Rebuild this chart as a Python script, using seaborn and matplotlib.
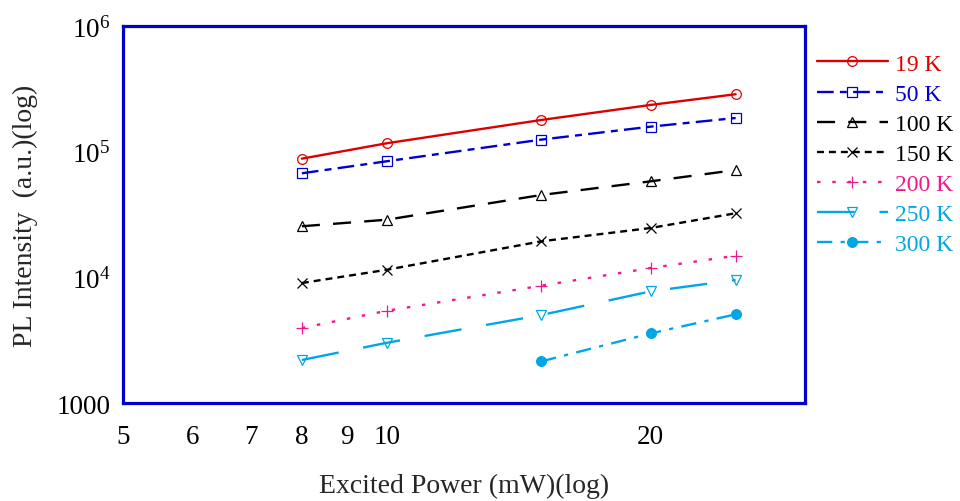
import matplotlib
matplotlib.use("Agg")
import matplotlib.pyplot as plt
import matplotlib.ticker as mticker
from matplotlib.lines import Line2D
import numpy as np
import pandas as pd
import seaborn as sns

# Excitation power (mW) and PL intensity (a.u.) at each temperature
power = [8, 10, 15, 20, 25]
power_300k = [15, 20, 25]
pl_19k = [88000, 116700, 178700, 235500, 286500]
pl_50k = [67300, 83900, 124700, 158200, 185400]
pl_100k = [25500, 28750, 45200, 58100, 71400]
pl_150k = [9010, 11490, 19350, 24700, 32360]
pl_200k = [3950, 5420, 8580, 11860, 14860]
pl_250k = [2200, 3015, 5010, 7735, 9520]
pl_300k = [2143, 3580, 5075]

labels = ["19 K", "50 K", "100 K", "150 K", "200 K", "250 K", "300 K"]
x_ticklabels = ["5", "6", "7", "8", "9", "10", "20"]
y_ticklabels = ["1000", r"$10^{4}$", r"$10^{5}$", r"$10^{6}$"]

sns.set_theme(style="white")
plt.rcParams["font.family"] = ["Liberation Serif", "DejaVu Serif"]
plt.rcParams["mathtext.fontset"] = "custom"
plt.rcParams["mathtext.rm"] = "Liberation Serif"
plt.rcParams["mathtext.it"] = "Liberation Serif:italic"
plt.rcParams["lines.scale_dashes"] = False

frame_blue = "#0000CC"
red = "#DD0000"
blue = "#0000CC"
pink = "#EE1A8C"
cyan = "#00A6E6"

series = [
    (power, pl_19k, red, "o", "none", 7.0, "-"),
    (power, pl_50k, blue, "s", "none", 6.5, (0, (12, 4.5, 5, 4.5))),
    (power, pl_100k, "black", "^", "none", 7.0, (0, (13, 9.5))),
    (power, pl_150k, "black", "x", "black", 7.0, (0, (5, 3.6))),
    (power, pl_200k, pink, "+", pink, 8.0, (0, (2.5, 8.5))),
    (power, pl_250k, cyan, "v", "none", 7.0, (0, (27, 18))),
    (power_300k, pl_300k, cyan, "o", cyan, 7.0, (0, (11, 6, 3, 6))),
]

fig = plt.figure(figsize=(9.6, 5.02), dpi=100)
ax = fig.add_axes([0.1281, 0.1952, 0.7105, 0.7510])

handles = []
for (xs, ys, color, marker, mfc, ms, ls), lab in zip(series, labels):
    df = pd.DataFrame({"power": xs, "pl": ys})
    sns.lineplot(data=df, x="power", y="pl", ax=ax, color=color,
                 marker=marker, markersize=ms, markerfacecolor=mfc,
                 markeredgecolor=color, markeredgewidth=0.9,
                 linewidth=1.7, linestyle=ls, legend=False)
    handles.append(Line2D([], [], color=color, marker=marker, markersize=ms,
                          markerfacecolor=mfc, markeredgecolor=color,
                          markeredgewidth=0.9, linewidth=1.7, linestyle=ls))

ax.set_xscale("log")
ax.set_yscale("log")
ax.set_xlim(5, 30)
ax.set_ylim(1000, 1e6)

# x axis: long ticks at 10 and 20, short ticks at 5-9, all labelled
ax.xaxis.set_major_locator(mticker.FixedLocator([10, 20]))
ax.xaxis.set_major_formatter(mticker.FixedFormatter(["10", "20"]))
ax.xaxis.set_minor_locator(mticker.FixedLocator([5, 6, 7, 8, 9]))
ax.xaxis.set_minor_formatter(mticker.FixedFormatter(x_ticklabels[:5]))

# y axis: decades labelled, 2-9 minor ticks
ax.yaxis.set_major_locator(mticker.FixedLocator([1e3, 1e4, 1e5, 1e6]))
ax.yaxis.set_major_formatter(mticker.FixedFormatter(y_ticklabels))
ax.yaxis.set_minor_locator(mticker.LogLocator(base=10, subs=np.arange(2, 10)))
ax.yaxis.set_minor_formatter(mticker.NullFormatter())

ax.tick_params(axis="both", which="both", direction="in", colors=frame_blue,
               labelcolor="black", top=False, right=False, width=1.8)
ax.tick_params(axis="both", which="major", length=8)
ax.tick_params(axis="both", which="minor", length=5)
ax.tick_params(axis="x", which="both", labelsize=19.5, pad=15)
ax.tick_params(axis="y", which="both", labelsize=19.5, pad=9)

for sp in ax.spines.values():
    sp.set_color(frame_blue)
    sp.set_linewidth(2.3)

ax.set_xlabel("Excited Power (mW)(log)", fontsize=20, labelpad=17)
ax.set_ylabel("PL Intensity  (a.u.)(log)", fontsize=20, labelpad=13)
ax.grid(False)

leg = fig.legend(handles, labels, loc="upper left",
                 bbox_to_anchor=(0.851, 0.892), bbox_transform=fig.transFigure,
                 frameon=False, fontsize=17, handlelength=3.0,
                 handletextpad=0.3, labelspacing=0.36, borderpad=0,
                 borderaxespad=0)
for txt, (_, _, color, *_rest) in zip(leg.get_texts(), series):
    txt.set_color(color)

fig.savefig("out.png", dpi=100)
